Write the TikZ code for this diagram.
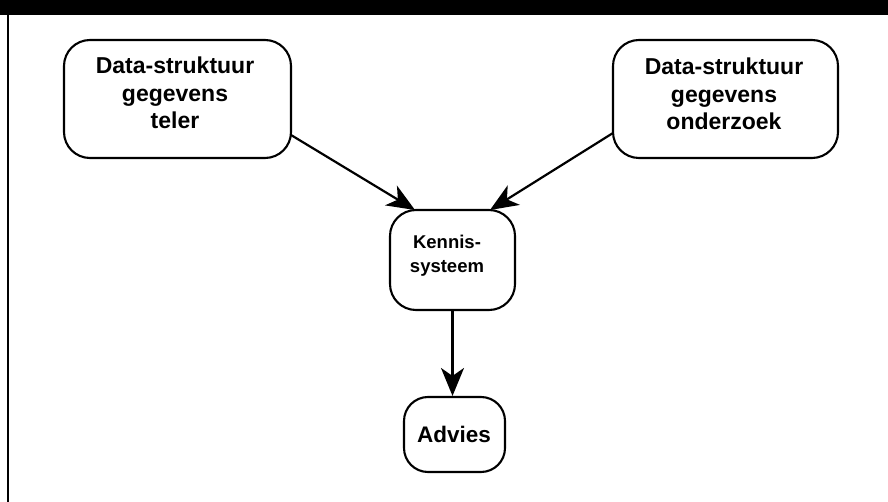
\documentclass[tikz,border=0pt]{standalone}
\usepackage{fontspec}
\setmainfont{Liberation Sans}
\usetikzlibrary{arrows.meta}
\begin{document}
\begin{tikzpicture}[x=1pt,y=-1pt,
  box/.style={draw,line width=2.1pt,rounded corners=26pt,inner sep=0pt},
  lbl/.style={align=center,inner sep=0pt,font=\bfseries\fontsize{23}{27.5}\selectfont},
  conn/.style={line width=2.2pt,-{Stealth[length=28pt,width=23pt,inset=8pt]}}]
\useasboundingbox (0,0) rectangle (888,502);
\fill[black] (0,0) rectangle (888,15);
\draw[line width=1.8pt] (8,15) -- (8,502);
\node[box,minimum width=227pt,minimum height=118pt] (a) at (177.5,99) {};
\node[lbl] (at) at (175,93) {Data-struktuur\\gegevens\\teler};
\node[box,minimum width=225pt,minimum height=118pt] (b) at (725.5,99) {};
\node[lbl] (bt) at (724,94) {Data-struktuur\\gegevens\\onderzoek};
\node[box,minimum width=125pt,minimum height=100pt] (k) at (452.5,260) {};
\node[lbl,font=\bfseries\fontsize{18.5}{24}\selectfont] (kt) at (447,256) {Kennis-\\systeem};
\node[box,minimum width=101pt,minimum height=75pt,rounded corners=24pt] (v) at (454.5,434.5) {};
\node[lbl,font=\bfseries\fontsize{22.5}{26}\selectfont] (vt) at (454,434) {Advies};
\coordinate (a1) at (291,135);
\coordinate (b1) at (613,133);
\coordinate (k1) at (415,210);
\coordinate (k2) at (490,210);
\draw[conn] (a1) -- (k1);
\draw[conn] (b1) -- (k2);
\draw[conn] (k.south) -- (k.south |- v.north);
\end{tikzpicture}
\end{document}
